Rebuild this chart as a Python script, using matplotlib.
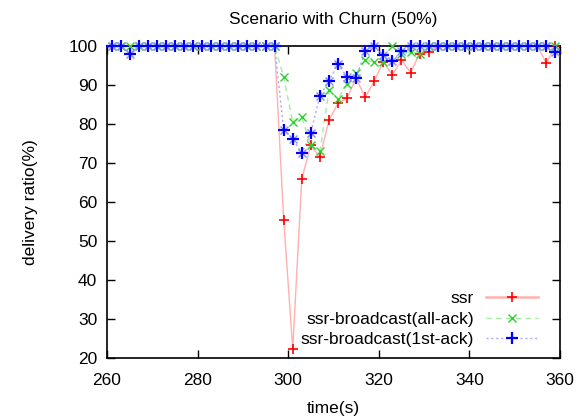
# Delivery ratio under 50% churn, gnuplot-like look
import numpy as np
import matplotlib.pyplot as plt

plt.rcParams['font.family'] = ['Liberation Sans', 'DejaVu Sans']

# sample times (s)
time = [261, 263, 265, 267, 269, 271, 273, 275, 277, 279,
        281, 283, 285, 287, 289, 291, 293, 295, 297, 299,
        301, 303, 305, 307, 309, 311, 313, 315, 317, 319,
        321, 323, 325, 327, 329, 331, 333, 335, 337, 339,
        341, 343, 345, 347, 349, 351, 353, 355, 357, 359]

ssr = [100, 100, 98, 100, 100, 100, 100, 100, 100, 100,
       100, 100, 100, 100, 100, 100, 100, 100, 100, 55.5,
       22.4, 66, 74.5, 71.5, 81, 85.3, 86.7, 91.7, 86.8, 91,
       96, 92.6, 96.4, 93.2, 98, 98.4, 100, 100, 100, 100,
       100, 100, 100, 100, 100, 100, 100, 100, 95.6, 100]

all_ack = [100, 100, 100, 100, 100, 100, 100, 100, 100, 100,
           100, 100, 100, 100, 100, 100, 100, 100, 100, 92,
           80.5, 81.8, 74.5, 73, 88.7, 86.4, 90.3, 93, 96.5, 95.8,
           96, 100, 98, 98.5, 98, 100, 100, 100, 100, 100,
           100, 100, 100, 100, 100, 100, 100, 100, 100, 100]

first_ack = [100, 100, 98, 100, 100, 100, 100, 100, 100, 100,
             100, 100, 100, 100, 100, 100, 100, 100, 100, 78.5,
             76.2, 72.5, 77.8, 87.2, 91.1, 95.3, 92.1, 91.9, 98.7, 100,
             97.7, 96.2, 98.7, 100, 100, 100, 100, 100, 100, 100,
             100, 100, 100, 100, 100, 100, 100, 100, 100, 98.5]

RED, RED_L = '#ff0000', '#ffb0b0'
GRN, GRN_L = '#30d030', '#a0f0a0'
BLU, BLU_L = '#0000ff', '#a8a8ff'
FS = 12.5

fig = plt.figure(figsize=(5.87, 4.2), dpi=100)
ax = fig.add_axes([0.1823, 0.1476, 0.7717, 0.7429])

# draw lines (light) and markers (strong) separately, like gnuplot
ax.plot(time, ssr, color=RED_L, lw=1.0, ls='-', clip_on=False, zorder=2)
ax.plot(time, all_ack, color=GRN_L, lw=1.0, ls=(0, (4, 3)), clip_on=False, zorder=2)
ax.plot(time, first_ack, color=BLU_L, lw=1.0, ls=(0, (1.5, 2)), clip_on=False, zorder=2)

ax.plot(time, ssr, ls='none', marker='+', ms=7, mew=1.2, color=RED,
        clip_on=False, zorder=3)
ax.plot(time, all_ack, ls='none', marker='x', ms=5.5, mew=1.0, color=GRN,
        clip_on=False, zorder=3)
# gnuplot star: strong plus over faint cross
ax.plot(time, first_ack, ls='none', marker='x', ms=6, mew=1.0, color='#8c8cff',
        clip_on=False, zorder=4)
ax.plot(time, first_ack, ls='none', marker='+', ms=8, mew=1.6, color=BLU,
        clip_on=False, zorder=4)

# legend proxies (line + marker)
h1, = ax.plot([], [], color=RED_L, lw=1.8, marker='+', ms=7, mew=1.2,
              mec=RED, label='ssr')
h2, = ax.plot([], [], color=GRN_L, lw=1.0, ls=(0, (4, 3)), marker='x', ms=5.5,
              mew=1.0, mec=GRN, label='ssr-broadcast(all-ack)')
h3, = ax.plot([], [], color=BLU_L, lw=1.0, ls=(0, (1.5, 2)), marker='+',
              ms=8, mew=1.6, mec=BLU, label='ssr-broadcast(1st-ack)')
leg = ax.legend(handles=[h1, h2, h3], loc='lower right', bbox_to_anchor=(0.952, 0.035),
                frameon=False, markerfirst=False, fontsize=FS, handlelength=3.0,
                handletextpad=0.7, labelspacing=0.3, borderpad=0, borderaxespad=0)
leg.set_zorder(5)

ax.set_xlim(260, 360)
ax.set_ylim(20, 100)
ax.set_xticks([260, 280, 300, 320, 340, 360])
ax.set_yticks([20, 30, 40, 50, 60, 70, 80, 90, 100])
ax.tick_params(direction='in', top=True, right=True, length=6, width=1.0,
               labelsize=FS, pad=11)
ax.tick_params(axis='y', pad=7)
for s in ax.spines.values():
    s.set_linewidth(1.2)

ax.set_title('Scenario with Churn (50%)', fontsize=FS, pad=16)
ax.set_xlabel('time(s)', fontsize=FS, labelpad=9)
ax.set_ylabel('delivery ratio(%)', fontsize=FS, labelpad=22)

fig.savefig('out.png', dpi=100)
